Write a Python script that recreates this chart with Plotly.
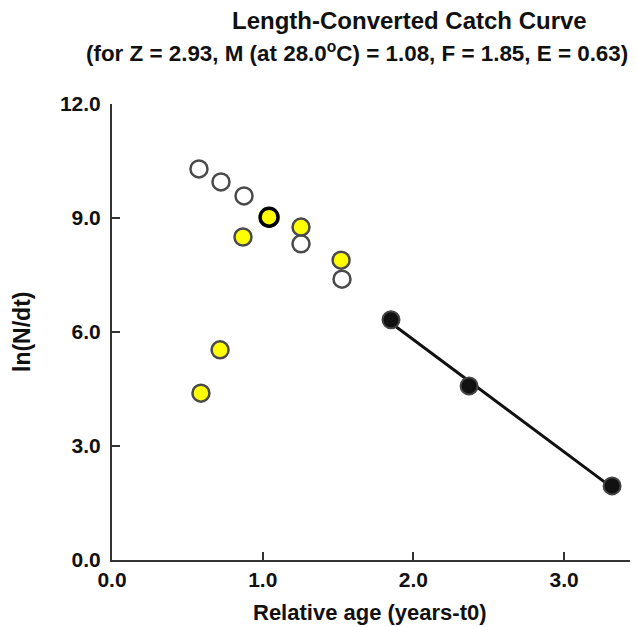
import numpy as np
import plotly.graph_objects as go

# Data
open_x = [0.577, 0.723, 0.876, 1.254, 1.526]
open_y = [10.29, 9.95, 9.58, 8.32, 7.39]

yellow_x = [0.869, 1.254, 1.520, 0.717, 0.590]
yellow_y = [8.50, 8.76, 7.89, 5.53, 4.39]

ybold_x = [1.042]
ybold_y = [9.02]

reg_x = [1.851, 2.369, 3.318]
reg_y = [6.32, 4.58, 1.95]

x_ticks = [0, 1, 2, 3]
x_tick_text = ["0.0", "1.0", "2.0", "3.0"]
y_ticks = [0, 3, 6, 9, 12]
y_tick_text = ["0.0", "3.0", "6.0", "9.0", "12.0"]

title1 = "Length-Converted Catch Curve"
title2 = "(for Z = 2.93, M (at 28.0<sup>o</sup>C) = 1.08, F = 1.85, E = 0.63)"

FONT = "Liberation Sans, Arial, sans-serif"

OFF = 8  # page body margin
W, H = 638, 627
L, R, T, B = 112 - OFF, 632 - OFF, 104 - OFF, 560 - OFF

slope, intercept = np.polyfit(reg_x, reg_y, 1)
line_x = np.array([min(reg_x), max(reg_x)])
line_y = intercept + slope * line_x

fig = go.Figure()
fig.add_trace(go.Scatter(x=line_x, y=line_y, mode="lines",
                         line=dict(color="#111111", width=3), hoverinfo="skip"))
fig.add_trace(go.Scatter(x=open_x, y=open_y, mode="markers",
                         marker=dict(size=17, color="white",
                                     line=dict(color="#4a4a4a", width=2.5))))
fig.add_trace(go.Scatter(x=yellow_x, y=yellow_y, mode="markers",
                         marker=dict(size=17, color="#ffff00",
                                     line=dict(color="#4a4a4a", width=2.5))))
fig.add_trace(go.Scatter(x=ybold_x, y=ybold_y, mode="markers",
                         marker=dict(size=18, color="#ffff00",
                                     line=dict(color="#000000", width=3.5))))
fig.add_trace(go.Scatter(x=reg_x, y=reg_y, mode="markers",
                         marker=dict(size=17, color="#111111",
                                     line=dict(color="#444444", width=2))))

def px_x(p):
    return (p - OFF - L) / (R - L)

def px_y(p):
    return (B - (p - OFF)) / (B - T)

fig.add_annotation(text="<b>%s</b>" % title1, xref="paper", yref="paper",
                   x=px_x(409), y=px_y(20),
                   xanchor="center", yanchor="middle", showarrow=False,
                   font=dict(family=FONT, size=24, color="#111111"))
fig.add_annotation(text="<b>%s</b>" % title2, xref="paper", yref="paper",
                   x=px_x(357), y=px_y(52),
                   xanchor="center", yanchor="middle", showarrow=False,
                   font=dict(family=FONT, size=22.4, color="#111111"))
fig.add_annotation(text="<b>Relative age (years-t0)</b>", xref="paper", yref="paper",
                   x=px_x(370), y=px_y(612),
                   xanchor="center", yanchor="middle", showarrow=False,
                   font=dict(family=FONT, size=22, color="#111111"))
fig.add_annotation(text="<b>ln(N/dt)</b>", xref="paper", yref="paper",
                   x=px_x(22), y=px_y(332), textangle=-90,
                   xanchor="center", yanchor="middle", showarrow=False,
                   font=dict(family=FONT, size=23, color="#111111"))

fig.update_layout(
    width=W, height=H,
    margin=dict(l=L, r=W - R, t=T, b=H - B),
    paper_bgcolor="white", plot_bgcolor="white",
    showlegend=False,
    font=dict(family=FONT, size=21, color="#111111"),
)
fig.update_xaxes(range=[0, 3.45], tickvals=x_ticks, ticktext=["<b>%s</b>" % t for t in x_tick_text],
                 showgrid=False, zeroline=False, showline=True, linecolor="#333333", linewidth=2,
                 ticks="inside", ticklen=8, tickwidth=2, tickcolor="#333333", automargin=False)
fig.update_yaxes(range=[0, 12], tickvals=y_ticks, ticktext=["<b>%s</b>" % t for t in y_tick_text],
                 showgrid=False, zeroline=False, showline=True, linecolor="#333333", linewidth=2,
                 ticks="inside", ticklen=8, tickwidth=2, tickcolor="#333333", automargin=False,
                 ticklabelstandoff=5)

fig.write_html("out.html")
